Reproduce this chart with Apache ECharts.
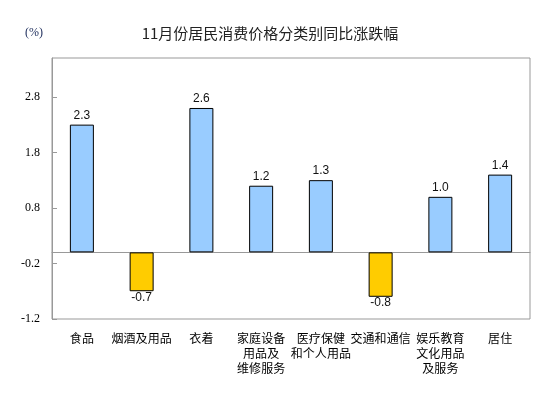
<!DOCTYPE html>
<html>
<head>
<meta charset="utf-8">
<script src="https://cdn.jsdelivr.net/npm/echarts@6/dist/echarts.min.js"></script>
<style>
  html, body { margin: 0; padding: 0; background: #fff; }
  #chart { width: 553px; height: 398px; }
</style>
</head>
<body>
<div id="chart"></div>
<script>
var categories = ['食品', '烟酒及用品', '衣着', '家庭设备\n用品及\n维修服务', '医疗保健\n和个人用品', '交通和通信', '娱乐教育\n文化用品\n及服务', '居住'];
var values = [2.3, -0.7, 2.6, 1.2, 1.3, -0.8, 1.0, 1.4];
var yTicks = [-1.2, -0.2, 0.8, 1.8, 2.8];

var chart = echarts.init(document.getElementById('chart'));

var barData = values.map(function (v) {
    var up = v >= 0;
    return {
        value: v,
        itemStyle: { color: up ? '#99CCFF' : '#FFCC00' },
        label: { position: up ? 'top' : 'bottom', distance: up ? 3 : 0 }
    };
});

var option = {
    backgroundColor: '#fff',
    animation: false,
    title: {
        text: '11月份居民消费价格分类别同比涨跌幅',
        left: 265,
        textAlign: 'center',
        top: 21,
        textStyle: {
            fontSize: 15,
            fontWeight: 'normal',
            color: '#222',
            fontFamily: 'Noto Sans CJK SC'
        }
    },
    graphic: [{
        type: 'text',
        left: 25,
        top: 27,
        style: { text: '(%)', fontSize: 12, fill: '#1a2a5a', fontFamily: 'Liberation Serif' }
    }],
    grid: {
        left: 52,
        right: 23,
        top: 58,
        bottom: 79,
        show: true,
        borderColor: '#999',
        borderWidth: 1
    },
    xAxis: {
        type: 'category',
        data: categories,
        axisLine: { show: true, onZero: true, lineStyle: { color: '#999', width: 1 } },
        axisTick: { show: false },
        axisLabel: {
            interval: 0,
            margin: 12,
            fontSize: 12,
            lineHeight: 15,
            color: '#000',
            fontFamily: 'Noto Sans CJK SC',
            verticalAlign: 'top'
        }
    },
    yAxis: {
        type: 'value',
        min: yTicks[0],
        max: 3.5,
        interval: 1,
        splitLine: { show: false },
        axisLine: { show: true, lineStyle: { color: '#999' } },
        axisTick: { show: true, inside: true, length: 5, lineStyle: { color: '#999' } },
        axisLabel: {
            showMaxLabel: false,
            margin: 12,
            fontSize: 12,
            color: '#000',
            fontFamily: 'Liberation Serif',
            formatter: function (v) { return v.toFixed(1); }
        }
    },
    series: [{
        type: 'bar',
        data: barData,
        barWidth: 24,
        itemStyle: { borderColor: '#000', borderWidth: 1 },
        label: {
            show: true,
            fontSize: 12,
            color: '#111',
            fontFamily: 'Liberation Sans',
            formatter: function (p) { return p.value.toFixed(1); }
        }
    }]
};

chart.setOption(option);
</script>
</body>
</html>
